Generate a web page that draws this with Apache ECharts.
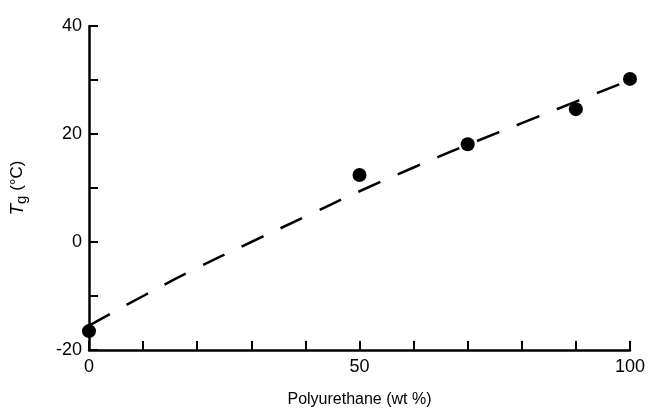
<!DOCTYPE html>
<html>
<head>
<meta charset="utf-8">
<script src="https://cdn.jsdelivr.net/npm/echarts@6/dist/echarts.min.js"></script>
<style>html,body{margin:0;padding:0;background:#fff}#c{width:648px;height:413px}</style>
</head>
<body>
<div id="c"></div>
<script>
// Measured points: polyurethane wt% vs Tg (°C)
const pointX = [0, 50, 70, 90, 100];
const pointY = [-16.5, 12.4, 18.1, 24.6, 30.2];
// Dashed fitted curve
const curveX = [0, 10, 20, 30, 40, 50, 60, 70, 80, 90, 100];
const curveY = [-15.5, -10, -4.8, 0, 4.7, 9.4, 13.8, 18, 22, 26, 30];
// Axis ticks
const xLabels = [0, 50, 100];
const yLabels = [-20, 0, 20, 40];

const chart = echarts.init(document.getElementById('c'));
const font = 'Liberation Sans, Arial, sans-serif';
chart.setOption({
  animation: false,
  backgroundColor: '#fff',
  grid: {left: 89, right: 18, top: 26, bottom: 63},
  xAxis: {
    type: 'value', min: 0, max: 100, interval: 10,
    axisLine: {onZero: false, lineStyle: {color: '#000', width: 2.5}},
    axisTick: {inside: true, length: 9, lineStyle: {color: '#000', width: 2}},
    splitLine: {show: false},
    axisLabel: {
      color: '#000', fontSize: 18, fontFamily: font, margin: 8,
      formatter: v => xLabels.includes(v) ? String(v) : ''
    },
    name: 'Polyurethane (wt %)', nameLocation: 'middle', nameGap: 42,
    nameTextStyle: {color: '#000', fontSize: 16, fontFamily: font}
  },
  yAxis: {
    type: 'value', min: -20, max: 40, interval: 10,
    axisLine: {onZero: false, lineStyle: {color: '#000', width: 2.5}},
    axisTick: {inside: true, length: 9, lineStyle: {color: '#000', width: 2}},
    splitLine: {show: false},
    axisLabel: {
      color: '#000', fontSize: 18, fontFamily: font, margin: 7,
      formatter: v => yLabels.includes(v) ? String(v) : ''
    },
    name: '{i|T}{s|g} (°C)', nameLocation: 'middle', nameGap: 60, nameRotate: 90,
    nameTextStyle: {
      color: '#000', fontSize: 17, fontFamily: font,
      rich: {
        i: {fontStyle: 'italic', fontSize: 19, fontFamily: font, color: '#000'},
        s: {fontSize: 15, fontFamily: font, color: '#000', verticalAlign: 'bottom', padding: [8, 0, 0, 0]}
      }
    }
  },
  series: [
    {
      type: 'line', smooth: true, symbol: 'none',
      data: curveX.map((x, i) => [x, curveY[i]]),
      lineStyle: {color: '#000', width: 2.5, type: [24, 19]}
    },
    {
      type: 'scatter', symbol: 'circle', symbolSize: 14,
      data: pointX.map((x, i) => [x, pointY[i]]),
      itemStyle: {color: '#000', opacity: 1}
    }
  ]
});
</script>
</body>
</html>
